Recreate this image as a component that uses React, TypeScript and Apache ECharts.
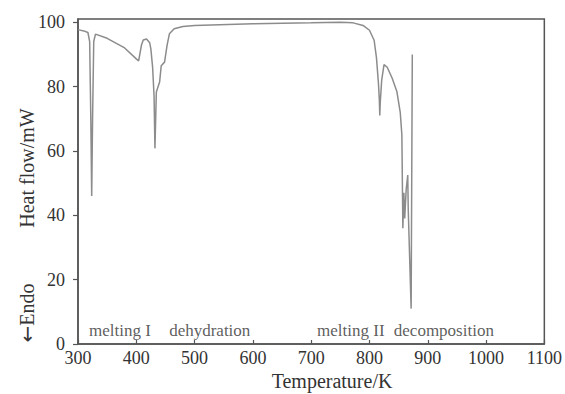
import React, { useEffect, useRef } from "react";
import * as echarts from "echarts";

const temps = [300, 310, 317, 320, 322, 323.5, 325, 327, 330, 350, 380, 400, 404, 409, 412, 417.5, 423, 425, 428, 430.5, 432, 434.4, 440, 442.8, 448.5, 452.8, 456.8, 465, 480, 500, 600, 700, 750, 772, 789, 800, 808, 812, 815.5, 817, 817.7, 818.5, 821, 825, 830.5, 839, 847, 852.8, 855.6, 857.3, 859, 860.5, 863, 865.7, 866.5, 871.5, 873.5];
const heatFlow = [97.7, 97.3, 96.8, 94, 70, 46, 70, 94, 96.3, 95, 92, 88.6, 88, 93, 94.5, 94.8, 93.6, 91.7, 86, 77, 60.8, 78.3, 81.4, 86.5, 87.6, 92.8, 96.4, 98, 98.7, 99, 99.5, 99.8, 100, 99.8, 99, 97.5, 94.4, 89, 80.8, 75.5, 71, 75, 82, 86.8, 86, 82.6, 78.5, 72, 65, 36, 47, 39, 48, 52.5, 42, 11, 90];

const yTicks = [0, 20, 40, 60, 80, 100];
const annotTemps = [372, 526, 768, 927.6];
const annotY = [4.35, 4.35, 4.35, 4.35];
const annotLabels = ["melting I", "dehydration", "melting II", "decomposition"];

const FONT = "'Liberation Serif', 'DejaVu Serif', serif";
const AXIS = "#555";
const TXT = "#333";

export default function App() {
  const ref = useRef<HTMLDivElement>(null);
  useEffect(() => {
    document.body.style.margin = "0";
    const chart = echarts.init(ref.current!, null, { renderer: "svg" });
    chart.setOption({
      animation: false,
      backgroundColor: "#fff",
      grid: { left: 78, right: 9, top: 19, bottom: 50, show: true, borderColor: AXIS, borderWidth: 1.5 },
      xAxis: {
        type: "value",
        min: 300,
        max: 1100,
        interval: 100,
        axisLine: { show: true, lineStyle: { color: AXIS, width: 1.5 } },
        axisTick: { show: true, inside: true, length: 4, lineStyle: { color: AXIS, width: 1.2 } },
        axisLabel: { fontFamily: FONT, fontSize: 18, color: TXT, margin: 5, formatter: (v: number) => String(v) },
        splitLine: { show: false },
      },
      yAxis: {
        type: "value",
        min: 0,
        max: 101,
        axisLine: { show: true, lineStyle: { color: AXIS, width: 1.5 } },
        axisTick: { show: true, inside: false, length: 5, customValues: yTicks, lineStyle: { color: AXIS, width: 1.2 } },
        axisLabel: { fontFamily: FONT, fontSize: 18, color: TXT, margin: 13, customValues: yTicks, formatter: (v: number) => String(v) },
        splitLine: { show: false },
      },
      series: [
        {
          type: "line",
          data: temps.map((t, i) => [t, heatFlow[i]]),
          showSymbol: false,
          symbol: "none",
          lineStyle: { color: "#8c8c8c", width: 1.5 },
          silent: true,
        },
        {
          type: "scatter",
          data: annotTemps.map((t, i) => [t, annotY[i], annotLabels[i]]),
          symbolSize: 1,
          itemStyle: { color: "rgba(0,0,0,0)" },
          label: {
            show: true,
            position: "inside",
            formatter: (p: any) => p.data[2],
            fontFamily: FONT,
            fontSize: 17,
            color: TXT,
          },
          silent: true,
        },
      ],
      graphic: [
        {
          type: "text",
          x: 27,
          y: 168,
          rotation: Math.PI / 2,
          style: { text: "Heat flow/mW", fontFamily: FONT, fontSize: 20, fill: TXT, textAlign: "center", textVerticalAlign: "middle" },
        },
        {
          type: "text",
          x: 27,
          y: 313,
          rotation: Math.PI / 2,
          style: {
            text: "{a|←}{b|Endo}",
            textAlign: "center",
            textVerticalAlign: "middle",
            rich: {
              a: { fontFamily: "'DejaVu Sans', sans-serif", fontSize: 20, fill: TXT, color: TXT },
              b: { fontFamily: FONT, fontSize: 20, fill: TXT, color: TXT },
            },
          },
        },
        {
          type: "text",
          x: 332,
          y: 381,
          style: { text: "Temperature/K", fontFamily: FONT, fontSize: 20, fill: TXT, textAlign: "center", textVerticalAlign: "middle" },
        },
      ],
    });
    return () => chart.dispose();
  }, []);
  return <div ref={ref} style={{ width: 565, height: 394 }} />;
}
